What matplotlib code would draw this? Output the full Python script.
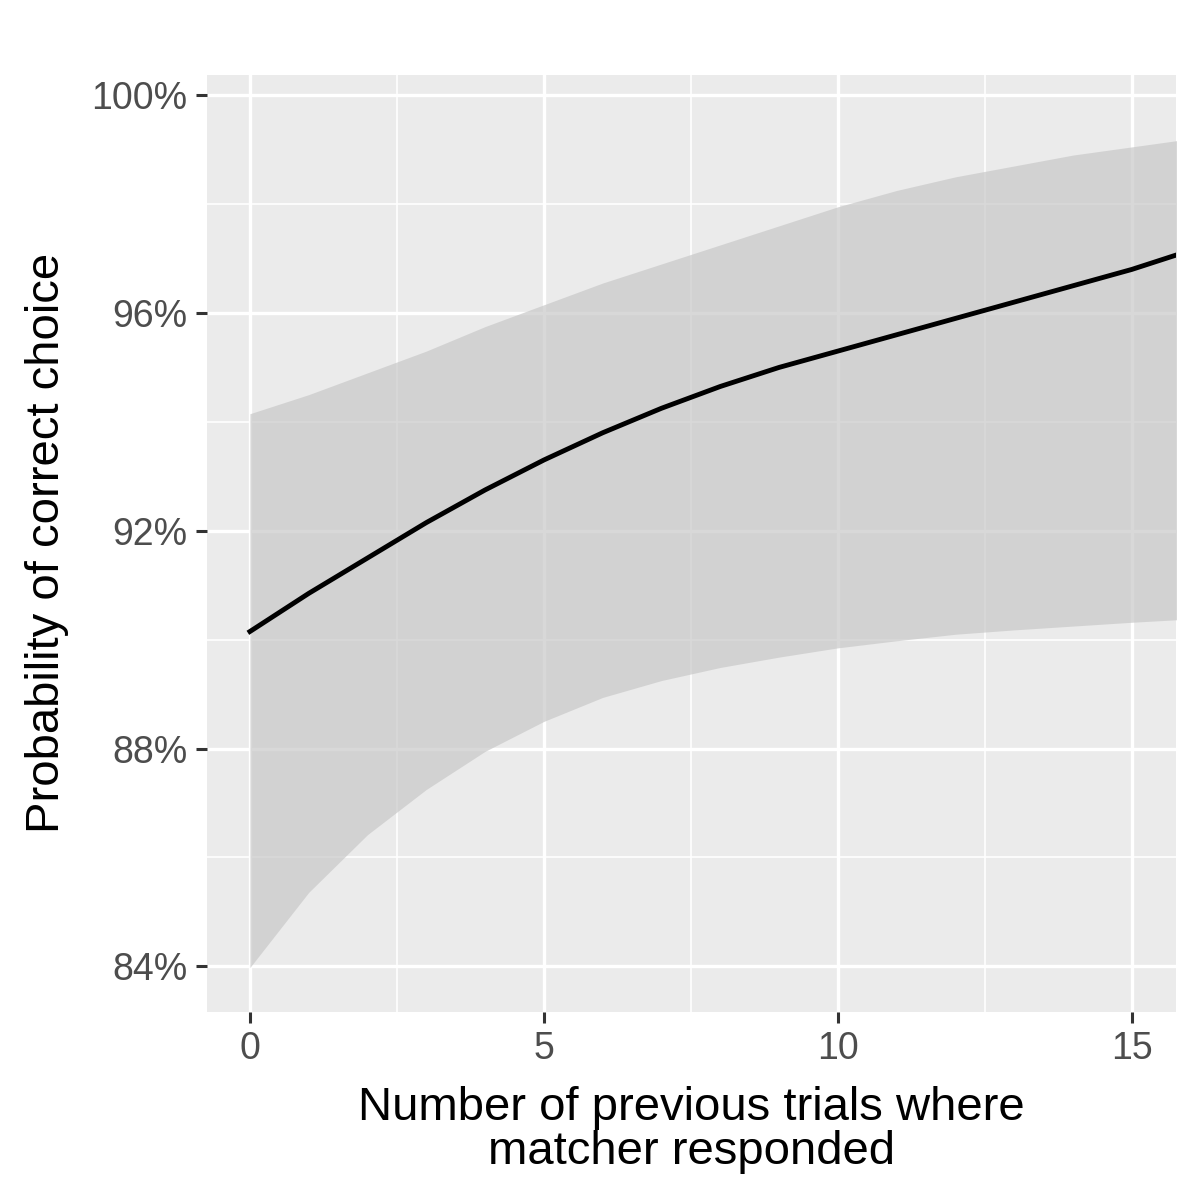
import matplotlib
matplotlib.use("Agg")
import matplotlib.pyplot as plt
from matplotlib.ticker import FuncFormatter

x = list(range(17))
fit = [90.15, 90.85, 91.5, 92.15, 92.75, 93.3, 93.8, 94.25, 94.65, 95.0, 95.3, 95.6, 95.9, 96.2, 96.5, 96.8, 97.15]
upper = [94.15, 94.5, 94.9, 95.3, 95.75, 96.15, 96.55, 96.9, 97.25, 97.6, 97.95, 98.25, 98.5, 98.7, 98.9, 99.05, 99.2]
lower = [83.98, 85.36, 86.42, 87.25, 87.95, 88.5, 88.94, 89.25, 89.49, 89.68, 89.85, 89.98, 90.1, 90.18, 90.25, 90.32, 90.38]
yticks = [84, 88, 92, 96, 100]
xticks = [0, 5, 10, 15]

plt.rcParams['font.family'] = ['Liberation Sans', 'DejaVu Sans']
fig = plt.figure(figsize=(12, 12), dpi=100)
ax = fig.add_axes([0.1725, 0.157, 0.8075, 0.7805])
ax.set_facecolor('#EBEBEB')
for m in [86, 90, 94, 98]:
    ax.axhline(m, color='white', lw=1.2, zorder=0)
for m in [2.5, 7.5, 12.5]:
    ax.axvline(m, color='white', lw=1.2, zorder=0)
ax.grid(True, color='white', lw=2.4, zorder=0)
ax.set_axisbelow(True)
ax.fill_between(x, lower, upper, color='#C8C8C8', alpha=0.7, lw=0, zorder=2)
ax.plot(x, fit, color='black', lw=3.5, zorder=3)
ax.set_xlim(-0.73, 15.75)
ax.set_ylim(83.17, 100.37)
ax.set_xticks(xticks)
ax.set_yticks(yticks)
ax.yaxis.set_major_formatter(FuncFormatter(lambda v, p: f"{v:.0f}%"))
for s in ax.spines.values():
    s.set_visible(False)
ax.tick_params(axis='both', labelsize=27, colors='#4D4D4D', length=8, width=2.2, color='#333333', pad=6)
ax.set_xlabel("Number of previous trials where\nmatcher responded", fontsize=34, labelpad=14, linespacing=1.0)
ax.set_ylabel("Probability of correct choice", fontsize=34, labelpad=16)
fig.savefig("out.png", dpi=100)
